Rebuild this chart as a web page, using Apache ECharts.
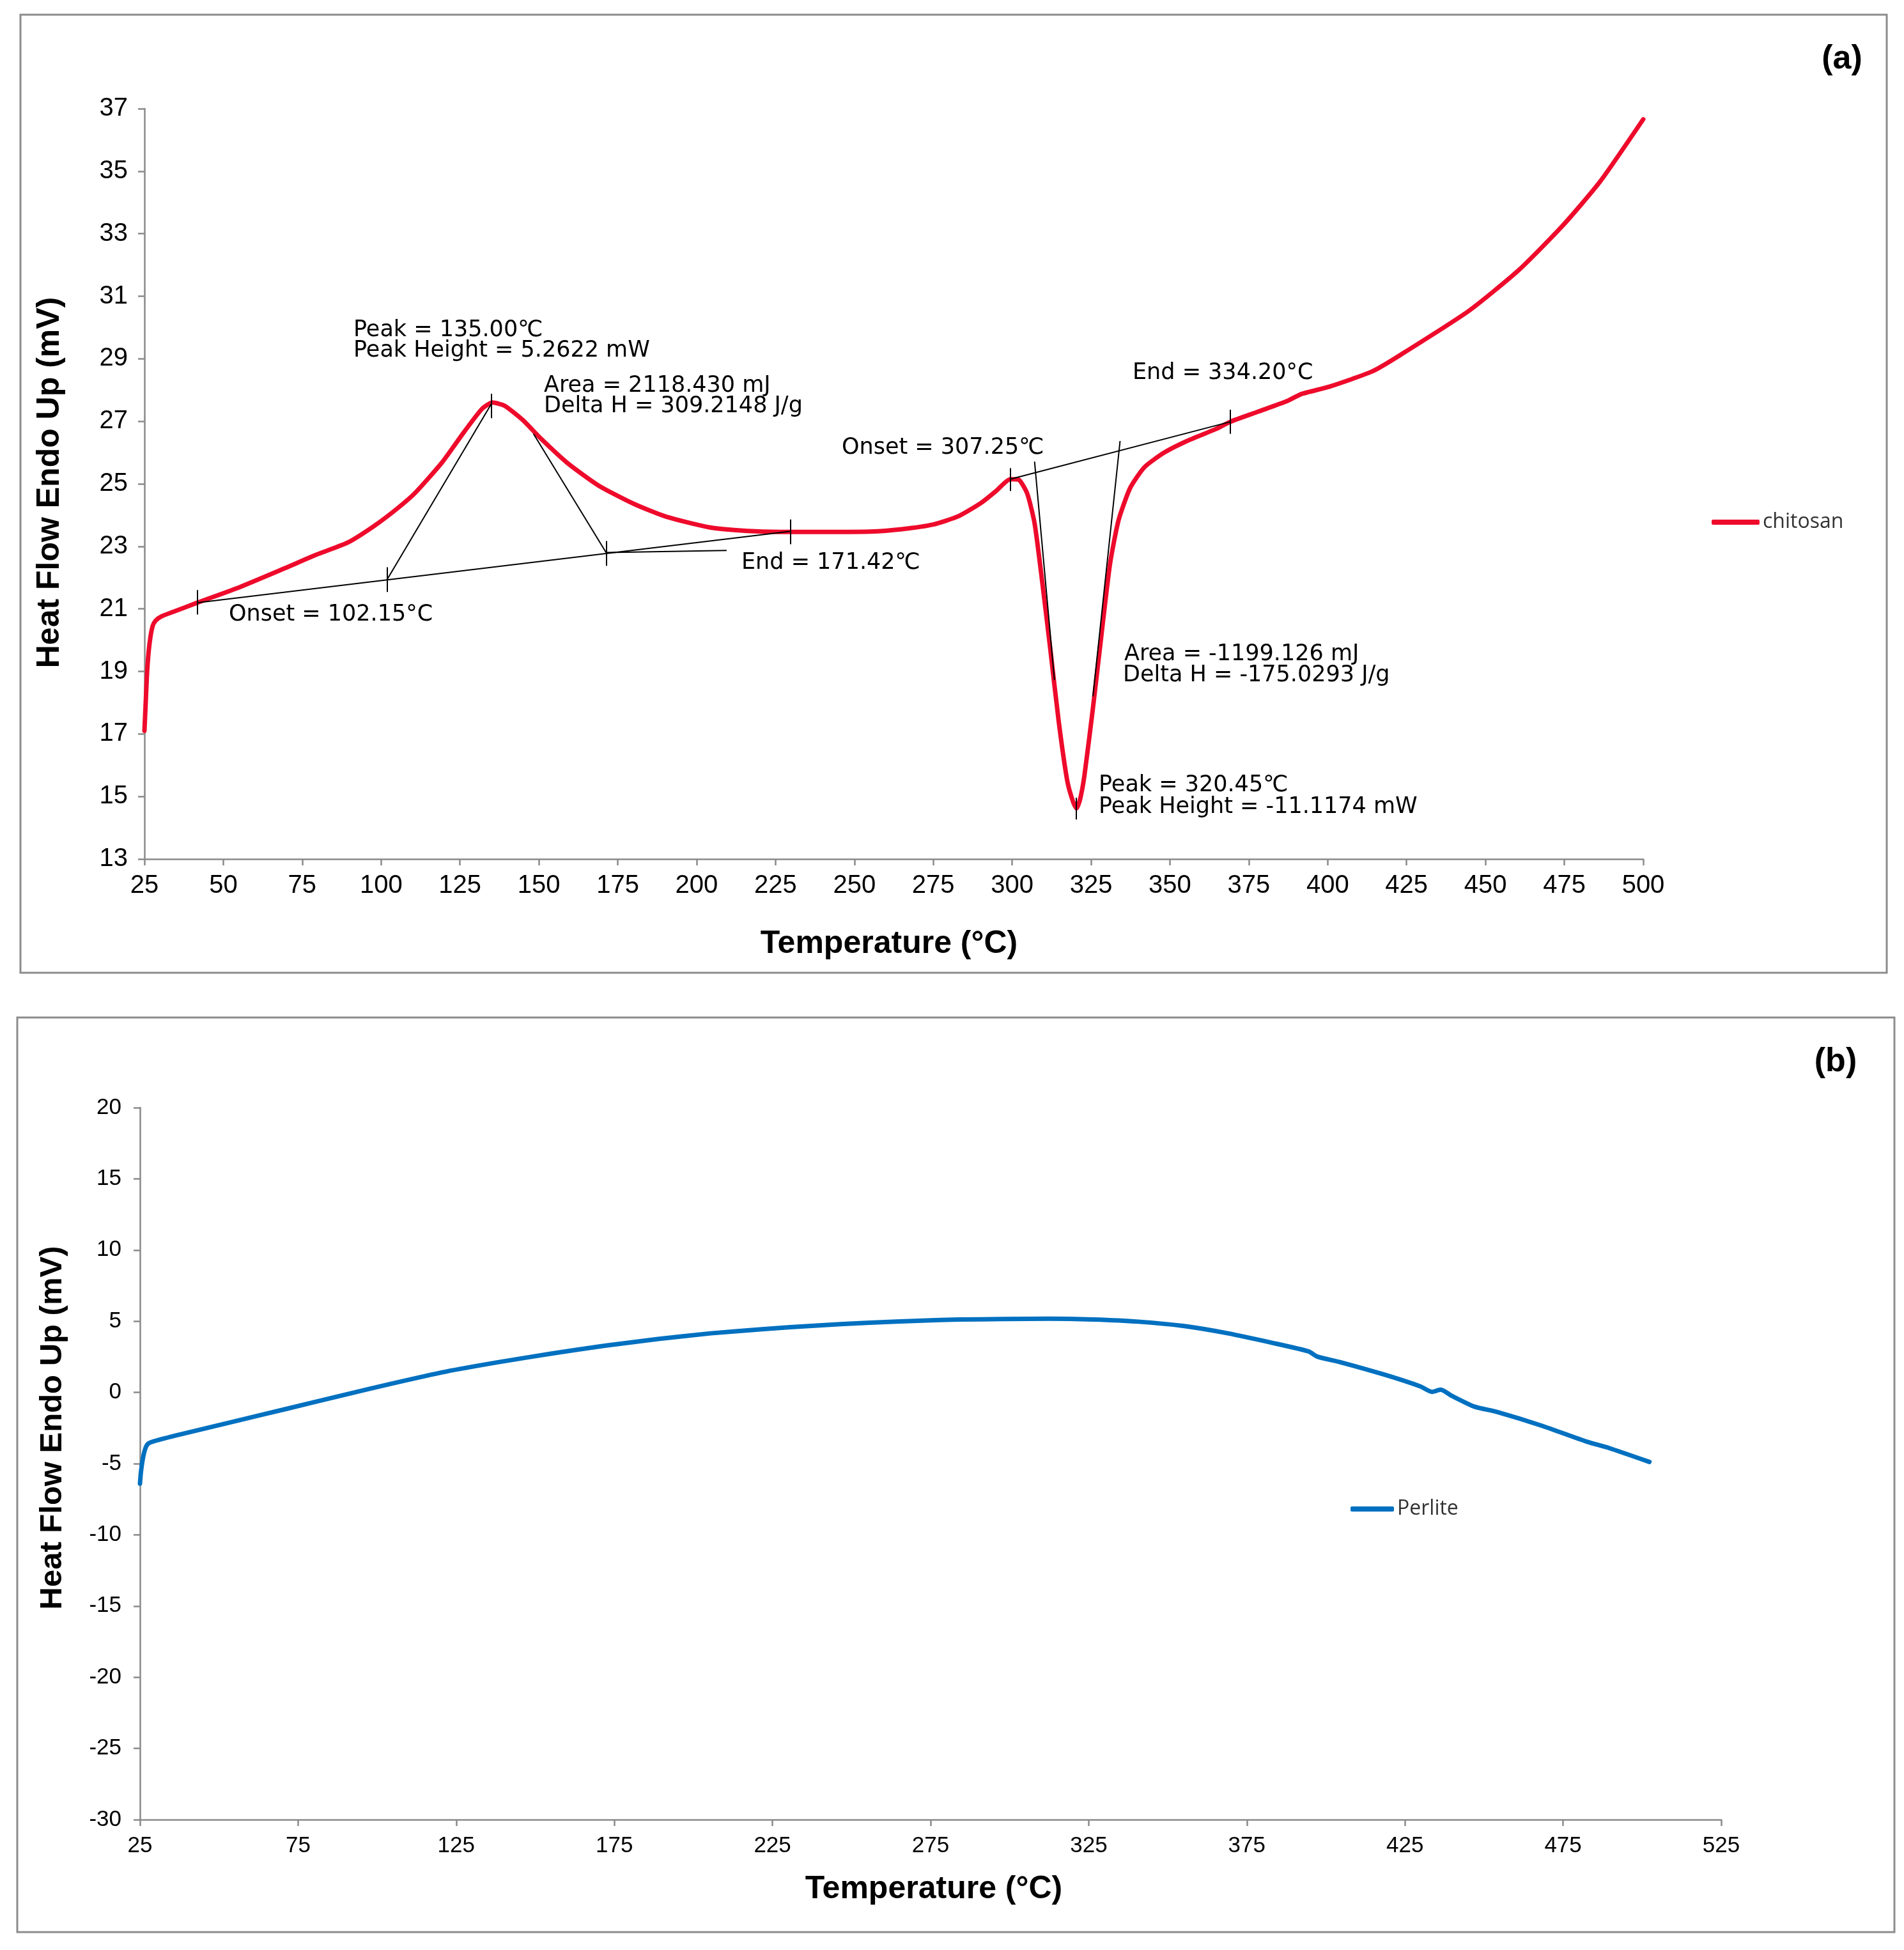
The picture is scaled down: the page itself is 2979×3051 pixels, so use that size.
<!DOCTYPE html>
<html><head><meta charset="utf-8">
<script src="https://cdn.jsdelivr.net/npm/echarts@6/dist/echarts.min.js"></script>
<style>html,body{margin:0;padding:0;background:#fff}#c{width:2979px;height:3051px}</style>
</head><body><div id="c"></div>
<script>
// ---------- data (temperature °C, heat flow mV) ----------
const chitosanData = [
  [25.0,17.1],[25.4,18.0],[25.8,18.9],[26.3,19.6],[26.9,20.1],[27.6,20.45],[28.5,20.62],[30.4,20.76],[34.0,20.9],
  [41.8,21.2],[55.3,21.7],[69.5,22.3],[79.4,22.73],[89.4,23.12],[97.9,23.66],[105.0,24.2],[110.7,24.7],
  [119.2,25.67],[126.3,26.66],[132.0,27.4],[135.3,27.6],[139.1,27.5],[144.8,27.05],[150.5,26.46],[159.0,25.67],
  [169.0,24.94],[180.3,24.35],[190.3,23.95],[204.5,23.6],[218.7,23.48],[230.1,23.46],[242.6,23.46],[255,23.47],
  [265,23.55],[275,23.7],[283.1,23.97],[290.3,24.4],[294.9,24.77],[299.4,25.15],[302.1,25.13],[304.8,24.68],
  [307.1,23.74],[309.3,22.05],[312.1,19.7],[314.8,17.36],[317.5,15.48],[319.4,14.8],[320.4,14.62],[321.5,14.9],
  [322.9,15.67],[325.6,17.83],[328.3,20.17],[331.0,22.43],[333.7,23.83],[337.4,24.87],[341.9,25.53],[348.2,26.0],
  [355.4,26.37],[364.5,26.75],[369.0,26.98],[378.0,27.31],[387.0,27.64],[391.6,27.87],[400.6,28.11],[414.2,28.6],
  [423.0,29.12],[444.7,30.53],[460.6,31.84],[474.4,33.25],[486.2,34.65],[500,36.66]
];
const perliteData = [
  [25.0,-6.4],[25.3,-5.6],[25.85,-4.73],[26.6,-4.0],[27.5,-3.61],[29.5,-3.42],[37.9,-2.94],[54.7,-2.04],[71.4,-1.15],
  [88.2,-0.25],[105.0,0.64],[121.7,1.46],[138.5,2.13],[155.2,2.73],[172.0,3.28],[188.8,3.75],[205.5,4.15],
  [222.3,4.45],[239.0,4.70],[255.8,4.90],[272.5,5.04],[284,5.12],[298.1,5.15],[312.3,5.18],[326.4,5.12],
  [340.6,4.97],[354.8,4.67],[369.0,4.15],[383.1,3.48],[394.5,2.88],[397.3,2.51],[404.4,2.13],[418.6,1.24],
  [429.9,0.42],[433.5,0.04],[436.3,0.19],[439.9,-0.25],[447.0,-1.0],[454.1,-1.37],[468.3,-2.34],[482.5,-3.46],
  [489.6,-3.91],[502.3,-4.88]
];
// DSC analysis construction lines (baseline / tangents), in data units
const constructionSegments = [
  [[41.8,21.2],[229.8,23.48]],
  [[134.9,27.55],[101.9,21.94]],
  [[148.3,26.6],[171.5,22.77]],
  [[171.5,22.8],[209.5,22.87]],
  [[299.4,25.15],[369.0,26.98]],
  [[307.1,25.71],[313.4,18.72]],
  [[334.2,26.37],[325.6,18.2]]
];
// tick marks: [temperature, low, high]
const constructionTicks = [
  [41.8,20.82,21.6],[101.9,21.54,22.33],[134.9,27.1,27.88],[171.5,22.38,23.17],[229.8,23.07,23.86],
  [299.4,24.77,25.5],[320.2,14.26,14.96],[369.0,26.6,27.37]
];
const xTicksA = [25,50,75,100,125,150,175,200,225,250,275,300,325,350,375,400,425,450,475,500];
const yTicksA = [13,15,17,19,21,23,25,27,29,31,33,35,37];
const xTicksB = [25,75,125,175,225,275,325,375,425,475,525];
const yTicksB = [-30,-25,-20,-15,-10,-5,0,5,10,15,20];
const annotationTexts = [
  'Peak = 135.00℃','Peak Height = 5.2622 mW','Area = 2118.430 mJ','Delta H = 309.2148 J/g',
  'Onset = 102.15°C','End = 171.42℃','Onset = 307.25℃','End = 334.20°C',
  'Area = -1199.126 mJ','Delta H = -175.0293 J/g','Peak = 320.45℃','Peak Height = -11.1174 mW'
];

// ---------- layout ----------
const annPos = [[553,517],[553,549],[851,604],[851,636],[358,962],[1160,881],[1317,701],[1772,584],
  [1759,1024],[1757,1057],[1719,1229],[1719,1263]];

const chart = echarts.init(document.getElementById('c'), null, {renderer:'canvas'});
const axisGray = '#8a8a8a';
function axisCfg(grid, min, max, ticks, fs, margin){
  return {type:'value', gridIndex:grid, min:min, max:max, interval:ticks[1]-ticks[0],
    axisLine:{show:true,onZero:false,lineStyle:{color:axisGray,width:2.5}},
    axisTick:{show:true,inside:false,length:10,lineStyle:{color:axisGray,width:2.5},customValues:ticks},
    axisLabel:{color:'#000',fontFamily:'Liberation Sans, Arial',fontSize:fs,margin:margin,customValues:ticks},
    splitLine:{show:false}};
}

const segData = constructionSegments.map(s=>({coords:s}))
  .concat(constructionTicks.map(t=>({coords:[[t[0],t[1]],[t[0],t[2]]]})));

const graphics = [
  {type:'rect', shape:{x:32,y:23,width:2920,height:1499}, style:{fill:'none',stroke:'#8c8c8c',lineWidth:3}, z:-1},
  {type:'rect', shape:{x:27,y:1592,width:2937,height:1431}, style:{fill:'none',stroke:'#8c8c8c',lineWidth:3}, z:-1},
  {type:'text', x:2882, y:93, style:{text:'(a)',font:'bold 52px "Liberation Sans", Arial',fill:'#000',textAlign:'center',textVerticalAlign:'middle'}},
  {type:'text', x:2872, y:1662, style:{text:'(b)',font:'bold 52px "Liberation Sans", Arial',fill:'#000',textAlign:'center',textVerticalAlign:'middle'}},
  {type:'text', x:78, y:755, rotation:Math.PI/2, style:{text:'Heat Flow Endo Up (mV)',font:'bold 50px "Liberation Sans", Arial',fill:'#000',textAlign:'center',textVerticalAlign:'middle'}},
  {type:'text', x:82, y:2234, rotation:Math.PI/2, style:{text:'Heat Flow Endo Up (mV)',font:'bold 49px "Liberation Sans", Arial',fill:'#000',textAlign:'center',textVerticalAlign:'middle'}},
  {type:'text', x:1391, y:1477, style:{text:'Temperature (°C)',font:'bold 50px "Liberation Sans", Arial',fill:'#000',textAlign:'center',textVerticalAlign:'middle'}},
  {type:'text', x:1461, y:2956, style:{text:'Temperature (°C)',font:'bold 50px "Liberation Sans", Arial',fill:'#000',textAlign:'center',textVerticalAlign:'middle'}}
];
annotationTexts.forEach((t,i)=>{
  graphics.push({type:'text', x:annPos[i][0], y:annPos[i][1], z:10,
    style:{text:t,font:'35px "DejaVu Sans", Verdana',fill:'#000',textAlign:'left',textVerticalAlign:'middle'}});
});

chart.setOption({
  animation:false,
  backgroundColor:'#fff',
  grid:[
    {left:226, top:170, width:2345, height:1174, containLabel:false},
    {left:219, top:1733, width:2474, height:1114, containLabel:false}
  ],
  xAxis:[ axisCfg(0,25,500,xTicksA,40,22), axisCfg(1,25,525,xTicksB,35,24) ],
  yAxis:[ axisCfg(0,13,37,yTicksA,40,26), axisCfg(1,-30,20,yTicksB,35,29) ],
  legend:[
    {data:['chitosan'], left:2678, top:801, padding:0, icon:'roundRect', itemWidth:75, itemHeight:8,
     textStyle:{fontFamily:'Open Sans',fontSize:32,color:'#333',lineHeight:32}},
    {data:['Perlite'], left:2113, top:2345, padding:0, icon:'roundRect', itemWidth:68, itemHeight:8,
     textStyle:{fontFamily:'Open Sans',fontSize:32,color:'#333',lineHeight:32}}
  ],
  series:[
    {name:'chitosan', type:'line', xAxisIndex:0, yAxisIndex:0, data:chitosanData, showSymbol:false,
     smooth:0.2, lineStyle:{color:'#EE0A2B',width:7,cap:'round',join:'round'}, itemStyle:{color:'#EE0A2B'}, z:2},
    {name:'construction', type:'lines', coordinateSystem:'cartesian2d', xAxisIndex:0, yAxisIndex:0,
     data:segData, lineStyle:{color:'#000',width:2,opacity:1,curveness:0}, z:5, silent:true},
    {name:'Perlite', type:'line', xAxisIndex:1, yAxisIndex:1, data:perliteData, showSymbol:false,
     smooth:0.2, lineStyle:{color:'#0070C0',width:7,cap:'round',join:'round'}, itemStyle:{color:'#0070C0'}, z:2}
  ],
  graphic:graphics
});
</script></body></html>
